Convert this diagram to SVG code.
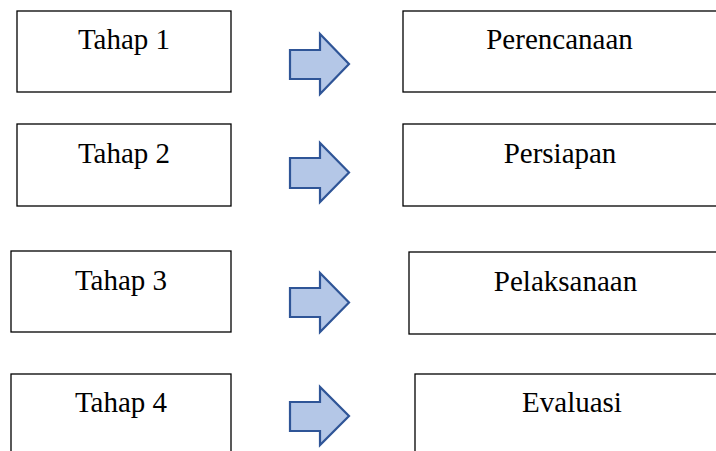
<svg xmlns="http://www.w3.org/2000/svg" width="716" height="451" viewBox="0 0 716 451">
<style>
.box{fill:#fff;stroke:#000;stroke-width:1.3}
.lbl{font-family:"Liberation Serif","Times New Roman",serif;font-size:29px;fill:#000;text-anchor:middle}
.arr{fill:#B4C7E7;stroke:#2F5597;stroke-width:2.2;stroke-linejoin:miter}
</style>
<rect width="716" height="451" fill="#fff"/>
<g id="tahap1"><rect class="box" x="17" y="11" width="214" height="81"/><text class="lbl" x="124" y="49">Tahap 1</text></g>
<g id="tahap2"><rect class="box" x="17" y="124" width="214" height="82"/><text class="lbl" x="124" y="163">Tahap 2</text></g>
<g id="tahap3"><rect class="box" x="11" y="251" width="220" height="81"/><text class="lbl" x="121" y="290">Tahap 3</text></g>
<g id="tahap4"><rect class="box" x="11" y="374" width="220" height="90"/><text class="lbl" x="121" y="412">Tahap 4</text></g>
<g id="perencanaan"><rect class="box" x="403" y="11" width="330" height="81"/><text class="lbl" x="559.5" y="49">Perencanaan</text></g>
<g id="persiapan"><rect class="box" x="403" y="124" width="330" height="82"/><text class="lbl" x="560" y="163">Persiapan</text></g>
<g id="pelaksanaan"><rect class="box" x="409" y="252" width="330" height="82"/><text class="lbl" x="565.5" y="291">Pelaksanaan</text></g>
<g id="evaluasi"><rect class="box" x="415" y="374" width="330" height="90"/><text class="lbl" x="572" y="412">Evaluasi</text></g>
<g id="connectors">
<polygon class="arr" points="290,50 320,50 320,34 349,64 320,94 320,79 290,79"/>
<polygon class="arr" points="290,158 320,158 320,143 349,172.5 320,202 320,188 290,188"/>
<polygon class="arr" points="290,288 320,288 320,273 349,302.5 320,332 320,317 290,317"/>
<polygon class="arr" points="290,402 320,402 320,387 349,416 320,445 320,431 290,431"/>
</g>
</svg>
